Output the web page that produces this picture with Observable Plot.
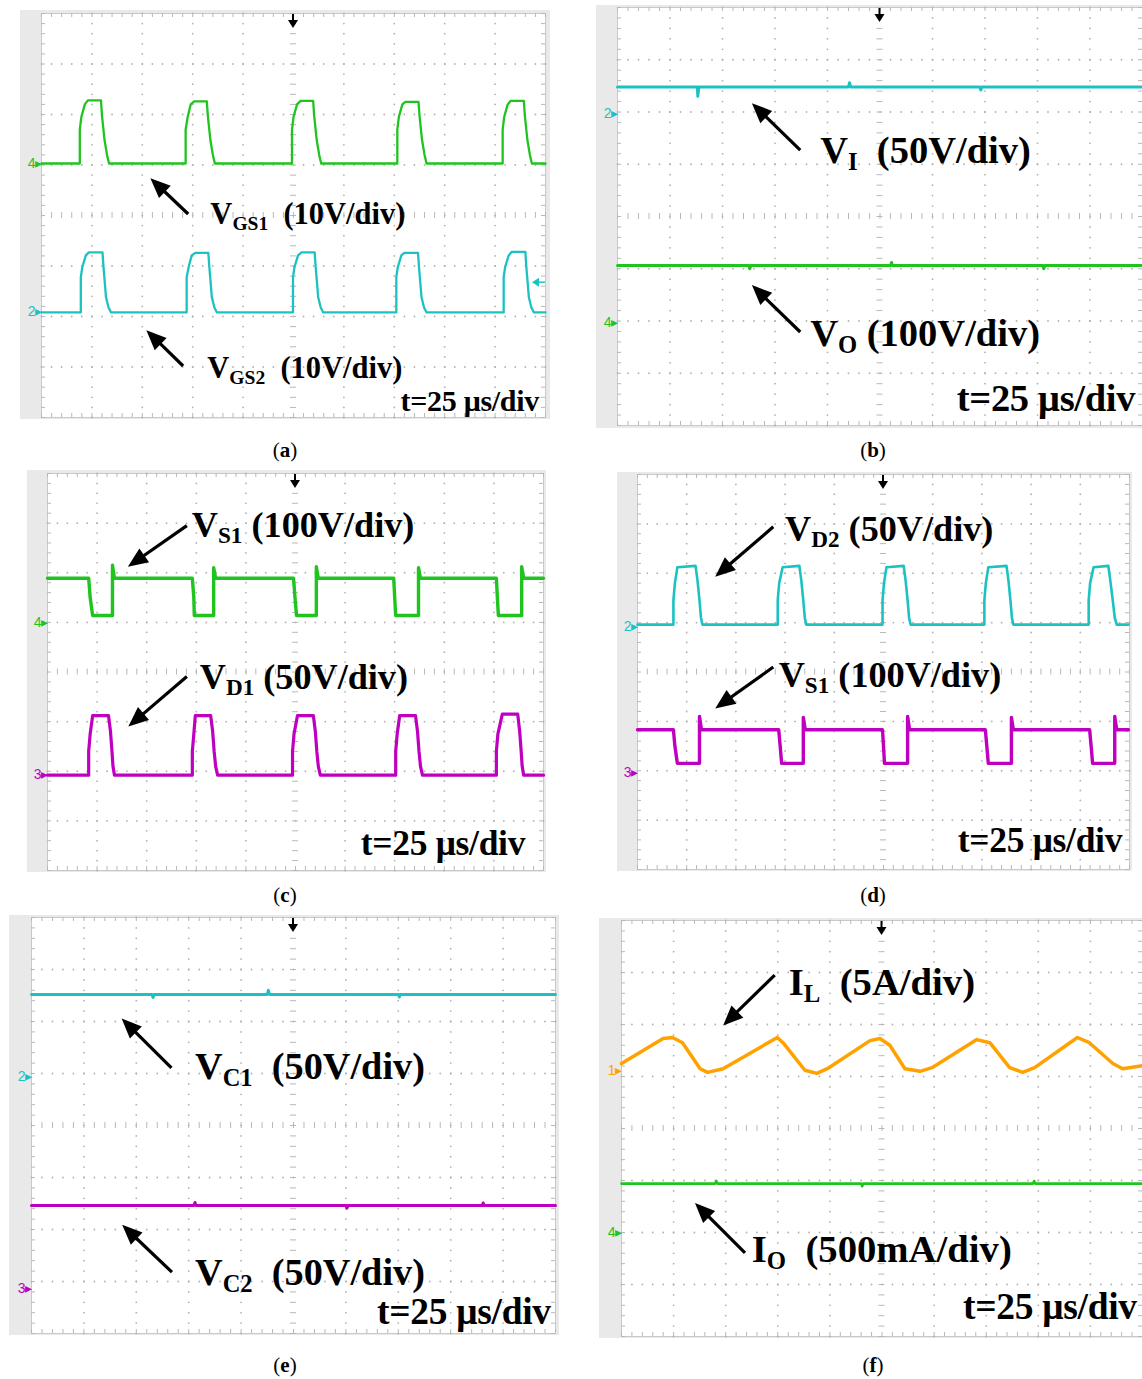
<!DOCTYPE html>
<html><head><meta charset="utf-8">
<script src="https://cdn.jsdelivr.net/npm/d3@7"></script>
<script src="https://cdn.jsdelivr.net/npm/@observablehq/plot@0.6"></script>
<style>
body{margin:0;background:#fff;}
#fig{position:relative;width:1142px;height:1379px;overflow:hidden;background:#fff;}
.panel{position:absolute;}
.cap{position:absolute;font-family:"Liberation Serif","Times New Roman",serif;font-size:21px;transform:translate(-50%,-50%);color:#000;}
</style></head><body><div id="fig"></div>
<script>
// ---- trace data: [time (div), level (div)] ----
const vgs1 = [[0,5.03],
[0.76,5.03],[0.76,5.70],[0.79,5.95],[0.86,6.20],[0.92,6.28],[1.18,6.28],[1.20,5.98],[1.25,5.50],[1.30,5.20],[1.34,5.03],
[2.86,5.03],[2.86,5.70],[2.90,5.95],[2.96,6.20],[3.03,6.26],[3.28,6.26],[3.30,5.98],[3.35,5.50],[3.40,5.20],[3.44,5.03],
[4.97,5.03],[4.97,5.70],[5.00,5.95],[5.07,6.20],[5.14,6.27],[5.39,6.27],[5.41,5.98],[5.46,5.50],[5.51,5.20],[5.55,5.03],
[7.06,5.03],[7.06,5.70],[7.09,5.95],[7.16,6.20],[7.22,6.25],[7.48,6.25],[7.50,5.98],[7.55,5.50],[7.60,5.20],[7.64,5.03],
[9.15,5.03],[9.15,5.70],[9.18,5.95],[9.25,6.20],[9.31,6.27],[9.57,6.27],[9.59,5.98],[9.64,5.50],[9.69,5.20],[9.73,5.03],
[10,5.03]];
const vgs2 = [[0,2.08],
[0.78,2.08],[0.78,2.78],[0.81,2.98],[0.88,3.21],[0.94,3.27],[1.21,3.27],[1.23,2.98],[1.28,2.38],[1.33,2.18],[1.38,2.08],
[2.88,2.08],[2.88,2.78],[2.92,2.98],[2.98,3.21],[3.05,3.26],[3.31,3.26],[3.33,2.98],[3.38,2.38],[3.43,2.18],[3.48,2.08],
[4.99,2.08],[4.99,2.78],[5.02,2.98],[5.09,3.21],[5.16,3.27],[5.42,3.27],[5.44,2.98],[5.49,2.38],[5.54,2.18],[5.59,2.08],
[7.04,2.08],[7.04,2.78],[7.07,2.98],[7.14,3.21],[7.20,3.26],[7.47,3.26],[7.49,2.98],[7.54,2.38],[7.59,2.18],[7.64,2.08],
[9.17,2.08],[9.17,2.78],[9.20,2.98],[9.27,3.21],[9.33,3.28],[9.60,3.28],[9.62,2.98],[9.67,2.38],[9.72,2.18],[9.77,2.08],
[10,2.08]];
const vI = [[0,6.48],[1.52,6.48],[1.53,6.30],[1.55,6.48],[4.4,6.48],[4.42,6.56],[4.44,6.48],[6.9,6.48],[6.92,6.42],[6.94,6.48],[10,6.48]];
const vO = [[0,3.06],[2.5,3.06],[2.52,3.0],[2.54,3.06],[5.2,3.06],[5.22,3.12],[5.24,3.06],[8.1,3.06],[8.12,3.0],[8.14,3.06],[10,3.06]];
const vS1c = [[0,5.89],
[0.83,5.89],[0.86,5.50],[0.91,5.14],[1.31,5.14],[1.31,6.15],[1.35,5.89],
[2.92,5.89],[2.95,5.50],[2.96,5.14],[3.35,5.14],[3.35,6.10],[3.39,5.89],
[4.96,5.89],[4.99,5.50],[5.02,5.14],[5.42,5.14],[5.42,6.12],[5.46,5.89],
[6.98,5.89],[7.00,5.50],[7.02,5.14],[7.48,5.14],[7.48,6.10],[7.52,5.89],
[9.05,5.89],[9.07,5.50],[9.09,5.14],[9.56,5.14],[9.56,6.12],[9.60,5.89],
[10,5.89]];
const vD1 = [[0,1.92],
[0.83,1.92],[0.83,2.40],[0.86,2.75],[0.91,3.12],[1.23,3.12],[1.27,2.80],[1.30,2.40],[1.32,2.10],[1.35,1.92],
[2.92,1.92],[2.92,2.40],[2.95,2.75],[2.98,3.12],[3.29,3.12],[3.33,2.80],[3.36,2.40],[3.39,2.10],[3.43,1.92],
[4.94,1.92],[4.94,2.40],[4.97,2.75],[5.04,3.12],[5.36,3.12],[5.40,2.80],[5.43,2.40],[5.46,2.10],[5.50,1.92],
[7.02,1.92],[7.02,2.40],[7.05,2.75],[7.10,3.12],[7.42,3.12],[7.46,2.80],[7.49,2.40],[7.52,2.10],[7.56,1.92],
[9.05,1.92],[9.05,2.40],[9.08,2.75],[9.17,3.15],[9.48,3.15],[9.52,2.80],[9.55,2.40],[9.57,2.10],[9.60,1.92],
[10,1.92]];
const vD2 = [[0,4.96],
[0.73,4.96],[0.73,5.45],[0.76,5.80],[0.81,6.12],[1.18,6.15],[1.22,5.85],[1.26,5.45],[1.29,5.10],[1.32,4.96],
[2.85,4.96],[2.85,5.45],[2.88,5.80],[2.95,6.12],[3.29,6.15],[3.33,5.85],[3.37,5.45],[3.40,5.10],[3.43,4.96],
[4.98,4.96],[4.98,5.45],[5.01,5.80],[5.06,6.12],[5.41,6.15],[5.45,5.85],[5.49,5.45],[5.52,5.10],[5.55,4.96],
[7.05,4.96],[7.05,5.45],[7.08,5.80],[7.13,6.12],[7.50,6.15],[7.54,5.85],[7.58,5.45],[7.61,5.10],[7.64,4.96],
[9.17,4.96],[9.17,5.45],[9.20,5.80],[9.27,6.12],[9.57,6.15],[9.61,5.85],[9.66,5.45],[9.70,5.10],[9.74,4.96],
[9.98,4.96]];
const vS1d = [[0,2.83],
[0.73,2.83],[0.76,2.50],[0.81,2.15],[1.26,2.15],[1.26,3.10],[1.30,2.83],
[2.87,2.83],[2.90,2.50],[2.93,2.15],[3.37,2.15],[3.37,3.08],[3.41,2.83],
[4.98,2.83],[5.00,2.50],[5.02,2.15],[5.49,2.15],[5.49,3.10],[5.53,2.83],
[7.07,2.83],[7.10,2.50],[7.13,2.15],[7.60,2.15],[7.60,3.08],[7.64,2.83],
[9.19,2.83],[9.22,2.50],[9.25,2.15],[9.70,2.15],[9.70,3.10],[9.74,2.83],
[9.98,2.83]];
const vC1 = [[0,6.52],[2.3,6.52],[2.32,6.46],[2.34,6.52],[4.5,6.52],[4.52,6.60],[4.54,6.52],[7.0,6.52],[7.02,6.47],[7.04,6.52],[10,6.52]];
const vC2 = [[0,2.46],[3.1,2.46],[3.12,2.52],[3.14,2.46],[6.0,2.46],[6.02,2.41],[6.04,2.46],[8.6,2.46],[8.62,2.51],[8.64,2.46],[10,2.46]];
const iL = [[0,5.25],[0.80,5.73],[0.98,5.75],[1.17,5.65],[1.51,5.15],[1.65,5.08],[1.95,5.15],[2.99,5.75],[3.10,5.65],[3.52,5.12],[3.75,5.06],[3.95,5.15],[4.77,5.69],[4.96,5.73],[5.15,5.60],[5.44,5.15],[5.73,5.10],[5.96,5.17],[6.82,5.71],[7.07,5.65],[7.45,5.17],[7.70,5.08],[7.93,5.17],[8.75,5.75],[8.98,5.65],[9.43,5.25],[9.62,5.15],[10,5.21]];
const iO = [[0,2.94],[1.8,2.94],[1.82,2.99],[1.84,2.94],[4.6,2.94],[4.62,2.89],[4.64,2.94],[7.9,2.94],[7.92,2.99],[7.94,2.94],[10,2.94]];

// channel ground markers [channel, level]
const markA = [["4",5.03],["2",2.10]];
const markB = [["2",5.98],["4",1.97]];
const markC = [["4",5.00],["3",1.94]];
const markD = [["2",4.93],["3",1.96]];
const markE = [["2",4.94],["3",0.87]];
const markF = [["1",5.12],["4",2.00]];

// annotation text
const timeText = "t=25 μs/div";
const captions = ["a","b","c","d","e","f"];

const GREEN = "#1fc41f", CYAN = "#1cc2c2", MAGENTA = "#c000c0", ORANGE = "#ffa200";
const SERIF = "'Liberation Serif','Times New Roman',serif";

const panels = [
  {box:{left:20,top:10,width:530,height:409,ml:21,mt:3,mr:5,mb:2}, fs:30.5, tfs:30,
   traces:[{d:vgs1,c:GREEN,w:2.3},{d:vgs2,c:CYAN,w:2.3}],
   markers:[[markA[0],GREEN],[markA[1],CYAN]], trigLevel:{y:2.67,c:CYAN},
   arrows:[[2.92,4.02,2.17,4.73],[2.82,1.01,2.09,1.72]],
   labels:[{x:3.36,y:4.02,p:["V","GS1","  (10V/div)"]},{x:3.30,y:0.97,p:["V","GS2","  (10V/div)"]}],
   time:{x:9.88,y:0.32}, cap:[285,450]},
  {box:{left:596,top:5,width:546,height:423,ml:21,mt:2,mr:0,mb:3}, fs:38.5, tfs:38.5,
   traces:[{d:vI,c:CYAN,w:3},{d:vO,c:GREEN,w:3}],
   markers:[[markB[0],CYAN],[markB[1],GREEN]],
   arrows:[[3.49,5.26,2.57,6.16],[3.49,1.78,2.57,2.68]],
   labels:[{x:3.87,y:5.26,p:["V","I","  (50V/div)"]},{x:3.68,y:1.76,p:["V","O"," (100V/div)"]}],
   time:{x:9.87,y:0.52}, cap:[873,450]},
  {box:{left:27,top:470,width:519,height:402,ml:20,mt:3,mr:3,mb:2}, fs:36.2, tfs:35.5,
   traces:[{d:vS1c,c:GREEN,w:3.4},{d:vD1,c:MAGENTA,w:3.2}],
   markers:[[markC[0],GREEN],[markC[1],MAGENTA]],
   arrows:[[2.82,6.94,1.63,6.11],[2.82,3.90,1.64,2.89]],
   labels:[{x:2.92,y:6.96,p:["V","S1"," (100V/div)"]},{x:3.08,y:3.89,p:["V","D1"," (50V/div)"]}],
   time:{x:9.64,y:0.54}, cap:[285,895]},
  {box:{left:617,top:472,width:515,height:399,ml:20,mt:2,mr:3,mb:2}, fs:36.2, tfs:35.5,
   traces:[{d:vD2,c:CYAN,w:2.6},{d:vS1d,c:MAGENTA,w:3.4}],
   markers:[[markD[0],CYAN],[markD[1],MAGENTA]],
   arrows:[[2.77,6.93,1.59,5.92],[2.77,4.09,1.59,3.25]],
   labels:[{x:3.01,y:6.90,p:["V","D2"," (50V/div)"]},{x:2.88,y:3.93,p:["V","S1"," (100V/div)"]}],
   time:{x:9.86,y:0.59}, cap:[873,895]},
  {box:{left:9,top:915,width:550,height:420,ml:22,mt:2,mr:4,mb:2}, fs:38.3, tfs:37.5,
   traces:[{d:vC1,c:CYAN,w:3},{d:vC2,c:MAGENTA,w:3}],
   markers:[[markE[0],CYAN],[markE[1],MAGENTA]],
   arrows:[[2.68,5.10,1.73,6.05],[2.69,1.17,1.74,2.08]],
   labels:[{x:3.13,y:5.13,p:["V","C1","  (50V/div)"]},{x:3.13,y:1.17,p:["V","C2","  (50V/div)"]}],
   time:{x:9.92,y:0.42}, cap:[285,1365]},
  {box:{left:599,top:918,width:543,height:420,ml:22,mt:2,mr:0,mb:2}, fs:38.7, tfs:37.5,
   traces:[{d:iL,c:ORANGE,w:3.5},{d:iO,c:GREEN,w:2.6}],
   markers:[[markF[0],ORANGE],[markF[1],GREEN]],
   arrows:[[2.95,6.94,1.96,5.97],[2.38,1.60,1.42,2.56]],
   labels:[{x:3.22,y:6.81,p:["I","L","  (5A/div)"]},{x:2.51,y:1.67,p:["I","O","  (500mA/div)"]}],
   time:{x:9.90,y:0.58}, cap:[873,1365]}
];

function drawArrow(svg, x1, y1, x2, y2, color, len, half, sw) {
  const dx = x2 - x1, dy = y2 - y1, L = Math.hypot(dx, dy);
  const ux = dx / L, uy = dy / L;
  const bx = x2 - ux * len, by = y2 - uy * len;
  svg.append("line").attr("x1", x1).attr("y1", y1).attr("x2", bx + ux*2).attr("y2", by + uy*2)
    .attr("stroke", color).attr("stroke-width", sw);
  svg.append("polygon").attr("points",
    [[x2, y2], [bx - uy*half, by + ux*half], [bx + uy*half, by - ux*half]].map(p => p.join(",")).join(" "))
    .attr("fill", color);
}

function drawLabel(svg, x, y, fs, parts, anchor) {
  const t = svg.append("text").attr("x", x).attr("y", y + 0.34*fs)
    .attr("font-family", SERIF).attr("font-weight", "bold").attr("font-size", fs)
    .attr("fill", "#000").attr("text-anchor", anchor || "start").style("white-space", "pre");
  t.append("tspan").text(parts[0]);
  if (parts[1]) t.append("tspan").attr("font-size", fs*0.64).attr("dy", fs*0.17).text(parts[1]);
  if (parts[2]) t.append("tspan").attr("dy", parts[1] ? -fs*0.17 : 0).text(parts[2]);
  return t;
}

const fig = document.getElementById("fig");
for (const p of panels) {
  const {left, top, width, height, ml, mt, mr, mb} = p.box;
  const iw = width - ml - mr, ih = height - mt - mb;
  const pxX = iw / 10, pxY = ih / 8;
  const s5 = d3.range(0, 51).map(j => j / 5);
  const s4 = d3.range(0, 41).map(j => j / 5);
  const dots = [];
  for (const gx of d3.range(1, 10)) if (gx !== 5) for (const y of s4) dots.push({x: gx, y});
  for (const gy of d3.range(1, 8)) if (gy !== 4) for (const x of s5) dots.push({x, y: gy});
  const tEx = 4 / pxX, tEy = 4 / pxY, tCx = 3 / pxX, tCy = 3 / pxY;
  const tick = {stroke: "#b8b8b8", strokeWidth: 1};
  const marks = [
    Plot.frame({fill: "white", stroke: "#c9c9c9"}),
    Plot.dot(dots, {x: "x", y: "y", r: 0.9, fill: "#b2b2b2"}),
    Plot.ruleY(s4, {x1: 0, x2: tEx, ...tick}),
    Plot.ruleY(s4, {x1: 10 - tEx, x2: 10, ...tick}),
    Plot.ruleY(s4, {x1: 5 - tCx, x2: 5 + tCx, ...tick}),
    Plot.ruleX(s5, {y1: 8, y2: 8 - tEy, ...tick}),
    Plot.ruleX(s5, {y1: 0, y2: tEy, ...tick}),
    Plot.ruleX(s5, {y1: 4 - tCy, y2: 4 + tCy, ...tick})
  ];
  for (const tr of p.traces) {
    marks.push(Plot.line(tr.d, {x: d => d[0], y: d => d[1], stroke: tr.c, strokeWidth: tr.w, strokeLinejoin: "round"}));
  }
  for (const [m, c] of p.markers) {
    marks.push(Plot.text([m], {x: 0, y: d => d[1], text: d => d[0] + "\u25B8", textAnchor: "end", dx: 1, fill: c,
      fontSize: 14, fontFamily: "'Liberation Sans',Arial,sans-serif"}));
  }
  const el = Plot.plot({
    width, height, marginLeft: ml, marginTop: mt, marginRight: mr, marginBottom: mb,
    x: {domain: [0, 10], axis: null}, y: {domain: [0, 8], axis: null},
    style: {background: "#e9e9e9"},
    marks
  });
  const svg = d3.select(el);
  const sx = d3.scaleLinear([0, 10], [ml, width - mr]);
  const sy = d3.scaleLinear([0, 8], [height - mb, mt]);
  // trigger position arrow (top centre)
  drawArrow(svg, sx(5), sy(8) + 1, sx(5), sy(8) + 15, "#000", 8, 5, 2);
  if (p.trigLevel) drawArrow(svg, sx(10), sy(p.trigLevel.y), sx(10) - 13, sy(p.trigLevel.y), p.trigLevel.c, 7, 4.5, 1.5);
  for (const a of p.arrows) drawArrow(svg, sx(a[0]), sy(a[1]), sx(a[2]), sy(a[3]), "#000", 20, 8.5, 3.2);
  for (const l of p.labels) drawLabel(svg, sx(l.x), sy(l.y), p.fs, l.p);
  drawLabel(svg, sx(p.time.x), sy(p.time.y), p.tfs, [timeText], "end").attr("letter-spacing", -0.3);
  const div = document.createElement("div");
  div.className = "panel";
  div.style.left = left + "px"; div.style.top = top + "px";
  div.appendChild(el);
  fig.appendChild(div);
}
panels.forEach((p, i) => {
  const c = document.createElement("div");
  c.className = "cap";
  c.style.left = p.cap[0] + "px"; c.style.top = p.cap[1] + "px";
  c.innerHTML = "(<b>" + captions[i] + "</b>)";
  fig.appendChild(c);
});
</script></body></html>
